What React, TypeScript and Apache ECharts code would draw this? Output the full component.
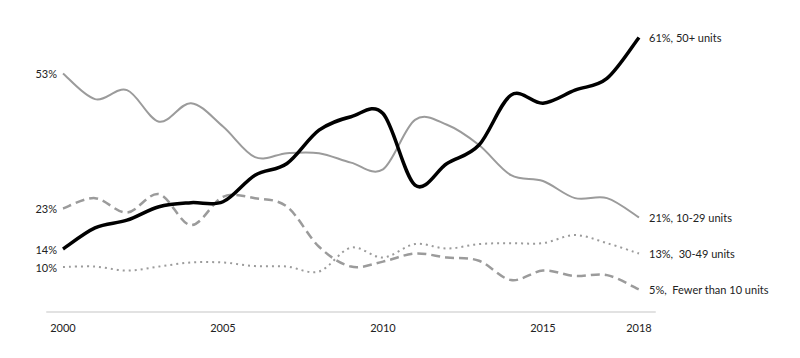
import React, { useEffect, useRef } from "react";
import * as echarts from "echarts";

const years = ["2000","2001","2002","2003","2004","2005","2006","2007","2008","2009","2010","2011","2012","2013","2014","2015","2016","2017","2018"];
const tickYears = ["2000", "2005", "2010", "2015", "2018"];

const units50plus = [14, 18.7, 20.4, 23.4, 24.3, 24.5, 30.4, 33, 40.4, 43.4, 44.1, 28.2, 33, 37.1, 48.2, 46.4, 49.3, 51.9, 61];
const units10to29 = [53, 47.3, 49.3, 42.3, 46.4, 41.2, 34.4, 35.3, 35.3, 33.2, 31.7, 42.7, 41.6, 37.1, 30.4, 29.1, 25.3, 25.3, 21];
const units30to49 = [10, 10.1, 9.2, 10.1, 11, 11, 10.2, 10.1, 9, 14.3, 12.1, 15.1, 14.1, 15.1, 15.3, 15.3, 17.1, 15.3, 13];
const unitsUnder10 = [23, 25.3, 22.1, 26.2, 19.3, 25.6, 25.3, 23.4, 14.5, 10.1, 11.2, 13, 12.1, 11.4, 7.1, 9.2, 8, 8.2, 5];

const startLabels = ["14%", "53%", "10%", "23%"];
const endLabels = ["61%, 50+ units", "21%, 10-29 units", "13%,  30-49 units", "5%,  Fewer than 10 units"];

function cardinalPath(pts: number[][]): string {
  const n = pts.length;
  let d = `M${pts[0][0]},${pts[0][1]}`;
  for (let i = 0; i < n - 1; i++) {
    const p0 = pts[Math.max(0, i - 1)];
    const p1 = pts[i];
    const p2 = pts[i + 1];
    const p3 = pts[Math.min(n - 1, i + 2)];
    const c1x = p1[0] + (p2[0] - p0[0]) / 6;
    const c1y = p1[1] + (p2[1] - p0[1]) / 6;
    const c2x = p2[0] - (p3[0] - p1[0]) / 6;
    const c2y = p2[1] - (p3[1] - p1[1]) / 6;
    d += ` C${c1x},${c1y} ${c2x},${c2y} ${p2[0]},${p2[1]}`;
  }
  return d;
}

export default function App() {
  const ref = useRef<HTMLDivElement>(null);
  useEffect(() => {
    if (!ref.current) return;
    const chart = echarts.init(ref.current, null, { renderer: "svg" });
    const font = "Lato, 'Open Sans', sans-serif";
    const mk = (name: string, values: number[], idx: number, color: string, width: number, dash: number[] | null, z: number) => ({
      name,
      type: "custom",
      data: values.map((v, i) => [i, v]),
      encode: { x: 0, y: 1 },
      z,
      clip: false,
      silent: true,
      renderItem: (params: any, api: any) => {
        if (params.dataIndex !== 0) return null;
        const pts = values.map((v, i) => api.coord([i, v]));
        const first = pts[0];
        const last = pts[pts.length - 1];
        return {
          type: "group",
          children: [
            {
              type: "path",
              shape: { pathData: cardinalPath(pts) },
              style: {
                fill: "none",
                stroke: color,
                lineWidth: width,
                lineDash: dash || undefined,
                lineCap: "butt",
                lineJoin: "round",
              },
            },
            {
              type: "text",
              x: first[0] - 6,
              y: first[1],
              style: {
                text: startLabels[idx],
                fill: "#222",
                font: `11px ${font}`,
                align: "right",
                verticalAlign: "middle",
              },
            },
            {
              type: "text",
              x: last[0] + 10,
              y: last[1],
              style: {
                text: endLabels[idx],
                fill: "#222",
                font: `11px ${font}`,
                align: "left",
                verticalAlign: "middle",
              },
            },
          ],
        };
      },
    });
    chart.setOption({
      animation: false,
      grid: { left: 39, right: 137, top: 11.5, bottom: 46 },
      xAxis: {
        type: "category",
        data: years,
        boundaryGap: true,
        axisLine: { show: true, lineStyle: { color: "#e2e2e2", width: 2 } },
        axisTick: { show: false },
        axisLabel: {
          interval: (i: number, v: string) => tickYears.includes(v),
          color: "#222",
          fontSize: 11,
          fontFamily: font,
          margin: 10,
        },
        splitLine: { show: false },
      },
      yAxis: {
        type: "value",
        min: 0,
        max: 65,
        show: false,
      },
      series: [
        mk("Fewer than 10 units", unitsUnder10, 3, "#9b9b9b", 2.5, [9, 5], 2),
        mk("30-49 units", units30to49, 2, "#9b9b9b", 2, [2, 4], 2),
        mk("10-29 units", units10to29, 1, "#9b9b9b", 2, null, 3),
        mk("50+ units", units50plus, 0, "#000000", 3.5, null, 5),
      ],
    });
    return () => chart.dispose();
  }, []);
  return <div ref={ref} style={{ width: 784, height: 350 }} />;
}
